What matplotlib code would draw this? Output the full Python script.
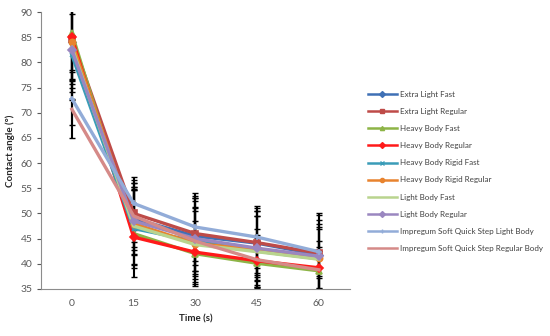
import numpy as np
import matplotlib
matplotlib.use('Agg')
import matplotlib.pyplot as plt

plt.rcParams['font.family'] = ['Lato', 'DejaVu Sans']

# time points (s)
times = ['0', '15', '30', '45', '60']

series = ['Extra Light Fast', 'Extra Light Regular', 'Heavy Body Fast',
          'Heavy Body Regular', 'Heavy Body Rigid Fast', 'Heavy Body Rigid Regular',
          'Light Body Fast', 'Light Body Regular',
          'Impregum Soft Quick Step Light Body', 'Impregum Soft Quick Step Regular Body']

# mean contact angles
elf = [84.0, 49.0, 45.5, 44.1, 41.8]
elr = [84.7, 50.0, 46.0, 44.2, 42.1]
hbf = [85.8, 46.0, 42.0, 40.1, 38.6]
hbr = [85.0, 45.3, 42.3, 40.6, 39.2]
hbrf = [81.5, 47.0, 44.5, 42.5, 41.0]
hbrr = [84.0, 48.0, 44.0, 42.9, 41.2]
lbf = [83.0, 47.5, 43.8, 42.4, 40.9]
lbr = [82.5, 48.5, 45.0, 43.1, 41.5]
islb = [72.8, 52.0, 47.3, 45.3, 42.4]
isrb = [70.7, 49.5, 44.5, 40.8, 38.8]

# standard deviations
elf_sd = [5.6, 7.0, 7.5, 6.4, 6.9]
elr_sd = [8.9, 6.6, 7.5, 6.8, 7.5]
hbf_sd = [9.3, 8.6, 6.5, 5.0, 4.0]
hbr_sd = [8.2, 2.6, 2.5, 4.0, 2.0]
hbrf_sd = [9.0, 7.9, 8.5, 4.4, 3.5]
hbrr_sd = [9.0, 8.0, 7.0, 7.6, 6.1]
lbf_sd = [8.8, 7.7, 7.5, 7.0, 6.0]
lbr_sd = [9.8, 6.8, 7.5, 6.4, 6.5]
islb_sd = [5.3, 5.3, 6.7, 6.2, 7.6]
isrb_sd = [5.7, 5.2, 6.0, 5.0, 4.5]

means = [elf, elr, hbf, hbr, hbrf, hbrr, lbf, lbr, islb, isrb]
sds = [elf_sd, elr_sd, hbf_sd, hbr_sd, hbrf_sd, hbrr_sd, lbf_sd, lbr_sd, islb_sd, isrb_sd]

colors = ['#3F70B5', '#BE4B48', '#8DB446', '#FF1A1A', '#3A9CB8', '#E8832E',
          '#B9D48E', '#9A87C0', '#92ACD8', '#D58A88']
markers = ['D', 's', '^', 'D', 'x', 'o', None, 'D', '+', None]
msizes = [3.5, 4.5, 4.5, 4, 3.5, 4.5, 0, 4.5, 4, 0]

fig = plt.figure(figsize=(5.5, 3.36), dpi=100)
ax = fig.add_axes([0.0745, 0.140, 0.5615, 0.824])

x = np.arange(len(times))
handles = []
for m, s in zip(means, sds):
    ax.errorbar(x, m, yerr=s, fmt='none', ecolor='black', elinewidth=1.5,
                capsize=2.5, capthick=1.0, zorder=1)
for m, c, mk, ms, lab in zip(means, colors, markers, msizes, series):
    h, = ax.plot(x, m, color=c, lw=2.4, marker=mk, ms=ms, mec=c, mfc=c,
                 mew=1.2, label=lab, zorder=2)
    handles.append(h)

ax.set_xlim(-0.5, 4.5)
ax.set_ylim(35, 90)
ax.set_yticks(np.arange(35, 91, 5))
ax.set_xticks(x)
ax.set_xticklabels(times)
ax.tick_params(axis='x', length=0, labelsize=7.5, colors='#595959', pad=7)
ax.tick_params(axis='y', length=3, labelsize=7.5, colors='#595959', pad=3)
for sp in ['top', 'right']:
    ax.spines[sp].set_visible(False)
for sp in ['left', 'bottom']:
    ax.spines[sp].set_color('#8C8C8C')
    ax.spines[sp].set_linewidth(0.8)

ax.set_xlabel('Time (s)', fontsize=7, fontweight='bold', color='#262626', labelpad=5)
ax.set_ylabel('Contact angle (°)', fontsize=7, fontweight='bold', color='#262626', labelpad=4)

leg_handles = []
for h in handles:
    leg_handles.append(plt.Line2D([], [], color=h.get_color(), lw=1.8,
                                  marker=h.get_marker(), ms=3,
                                  mfc=h.get_color(), mec=h.get_color()))
leg = fig.legend(leg_handles, series, loc='upper left', bbox_to_anchor=(0.669, 0.730),
                 frameon=False, fontsize=5.8, handlelength=3.6, handletextpad=0.37,
                 labelspacing=1.26, borderaxespad=0, borderpad=0)
for t in leg.get_texts():
    t.set_color('#404040')

plt.savefig('out.png', dpi=100)
